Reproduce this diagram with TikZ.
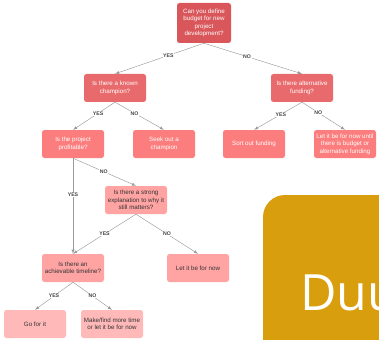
\documentclass[tikz,border=0pt]{standalone}
\usepackage{fontspec}
\setmainfont{Liberation Sans}
\newfontfamily\bannerfont{Open Sans}
\usetikzlibrary{positioning}

\definecolor{rootred}{HTML}{D9575B}
\definecolor{midred}{HTML}{E96A6C}
\definecolor{lightred}{HTML}{FC7D7D}
\definecolor{palered}{HTML}{FFA3A3}
\definecolor{palestred}{HTML}{FFB9B9}
\definecolor{linegray}{HTML}{9A9A9A}
\definecolor{labelgray}{HTML}{444444}
\definecolor{bannergold}{HTML}{D99E0E}

\begin{document}
\begin{tikzpicture}[x=1pt, y=-1pt,
    qbox/.style={rectangle, rounded corners=2.5pt, minimum width=62pt, minimum height=28pt,
      align=center, inner sep=1pt, font=\fontsize{6.2}{7.4}\selectfont},
    rootbox/.style={qbox, fill=rootred, text=white, minimum width=54pt, minimum height=40pt},
    levelb/.style={qbox, fill=midred, text=white},
    levelc/.style={qbox, fill=lightred, text=white},
    leveld/.style={qbox, fill=palered, text=black!80},
    levele/.style={qbox, fill=palestred, text=black!80},
    flow/.style={draw=linegray, line width=0.45pt, ->, >=latex},
    answer/.style={fill=white, inner sep=0.6pt, text=labelgray,
      font=\fontsize{5.2}{5.5}\selectfont\bfseries}]
  \useasboundingbox (0,0) rectangle (379,339);

  % decision nodes
  \node[rootbox] (budget) at (204,23) {Can you define\\budget for new\\project\\development?};

  \node[levelb] (champion) at (115,88) {Is there a known\\champion?};
  \node[levelb] (altfund) at (302,88) {Is there alternative\\funding?};

  \node[levelc] (profitable) at (73,144) {Is the project\\profitable?};
  \node[levelc] (seek) at (164,144) {Seek out a\\champion};
  \node[levelc] (sortout) at (254,144) {Sort out funding};
  \node[levelc] (waitfund) at (345,144) {Let it be for now until\\there is budget or\\alternative funding};

  \node[leveld] (explain) at (136,200) {Is there a strong\\explanation to why it\\still matters?};
  \node[leveld] (timeline) at (73,268) {Is there an\\achievable timeline?};
  \node[leveld] (letbe) at (198,268) {Let it be for now};

  \node[levele] (goforit) at (35,324) {Go for it};
  \node[levele] (moretime) at (112,324) {Make/find more time\\or let it be for now};

  % connectors
  \draw[flow] (budget.south) -- node[answer, pos=0.4] {YES} (champion.north);
  \draw[flow] (budget.south) -- node[answer, pos=0.44] {NO} (altfund.north);

  \draw[flow] (champion.south) -- node[answer, pos=0.4] {YES} (profitable.north);
  \draw[flow] (champion.south) -- node[answer, pos=0.4] {NO} (seek.north);
  \draw[flow] (altfund.south) -- node[answer, pos=0.44] {YES} (sortout.north);
  \draw[flow] (altfund.south) -- node[answer, pos=0.38] {NO} (waitfund.north);

  \draw[flow] (profitable.south) -- node[answer, pos=0.38] {YES} (timeline.north);
  \draw[flow] (profitable.south) -- node[answer, pos=0.49] {NO} (explain.north);

  \draw[flow] (explain.south) -- node[answer, pos=0.5] {YES} (timeline.north);
  \draw[flow] (explain.south) -- node[answer, pos=0.5] {NO} (letbe.north);

  \draw[flow] (timeline.south) -- node[answer, pos=0.5] {YES} (goforit.north);
  \draw[flow] (timeline.south) -- node[answer, pos=0.5] {NO} (moretime.north);

  % gold banner, cut off at the edge
  \begin{scope}
    \clip (0,0) rectangle (379,339);
    \fill[bannergold, rounded corners=22pt] (263,195) rectangle (420,380);
    \node[anchor=base west, inner sep=0pt, text=white,
      font=\bannerfont\fontsize{50}{50}\selectfont] (banner) at (300,310) {Duu};
  \end{scope}
\end{tikzpicture}
\end{document}
